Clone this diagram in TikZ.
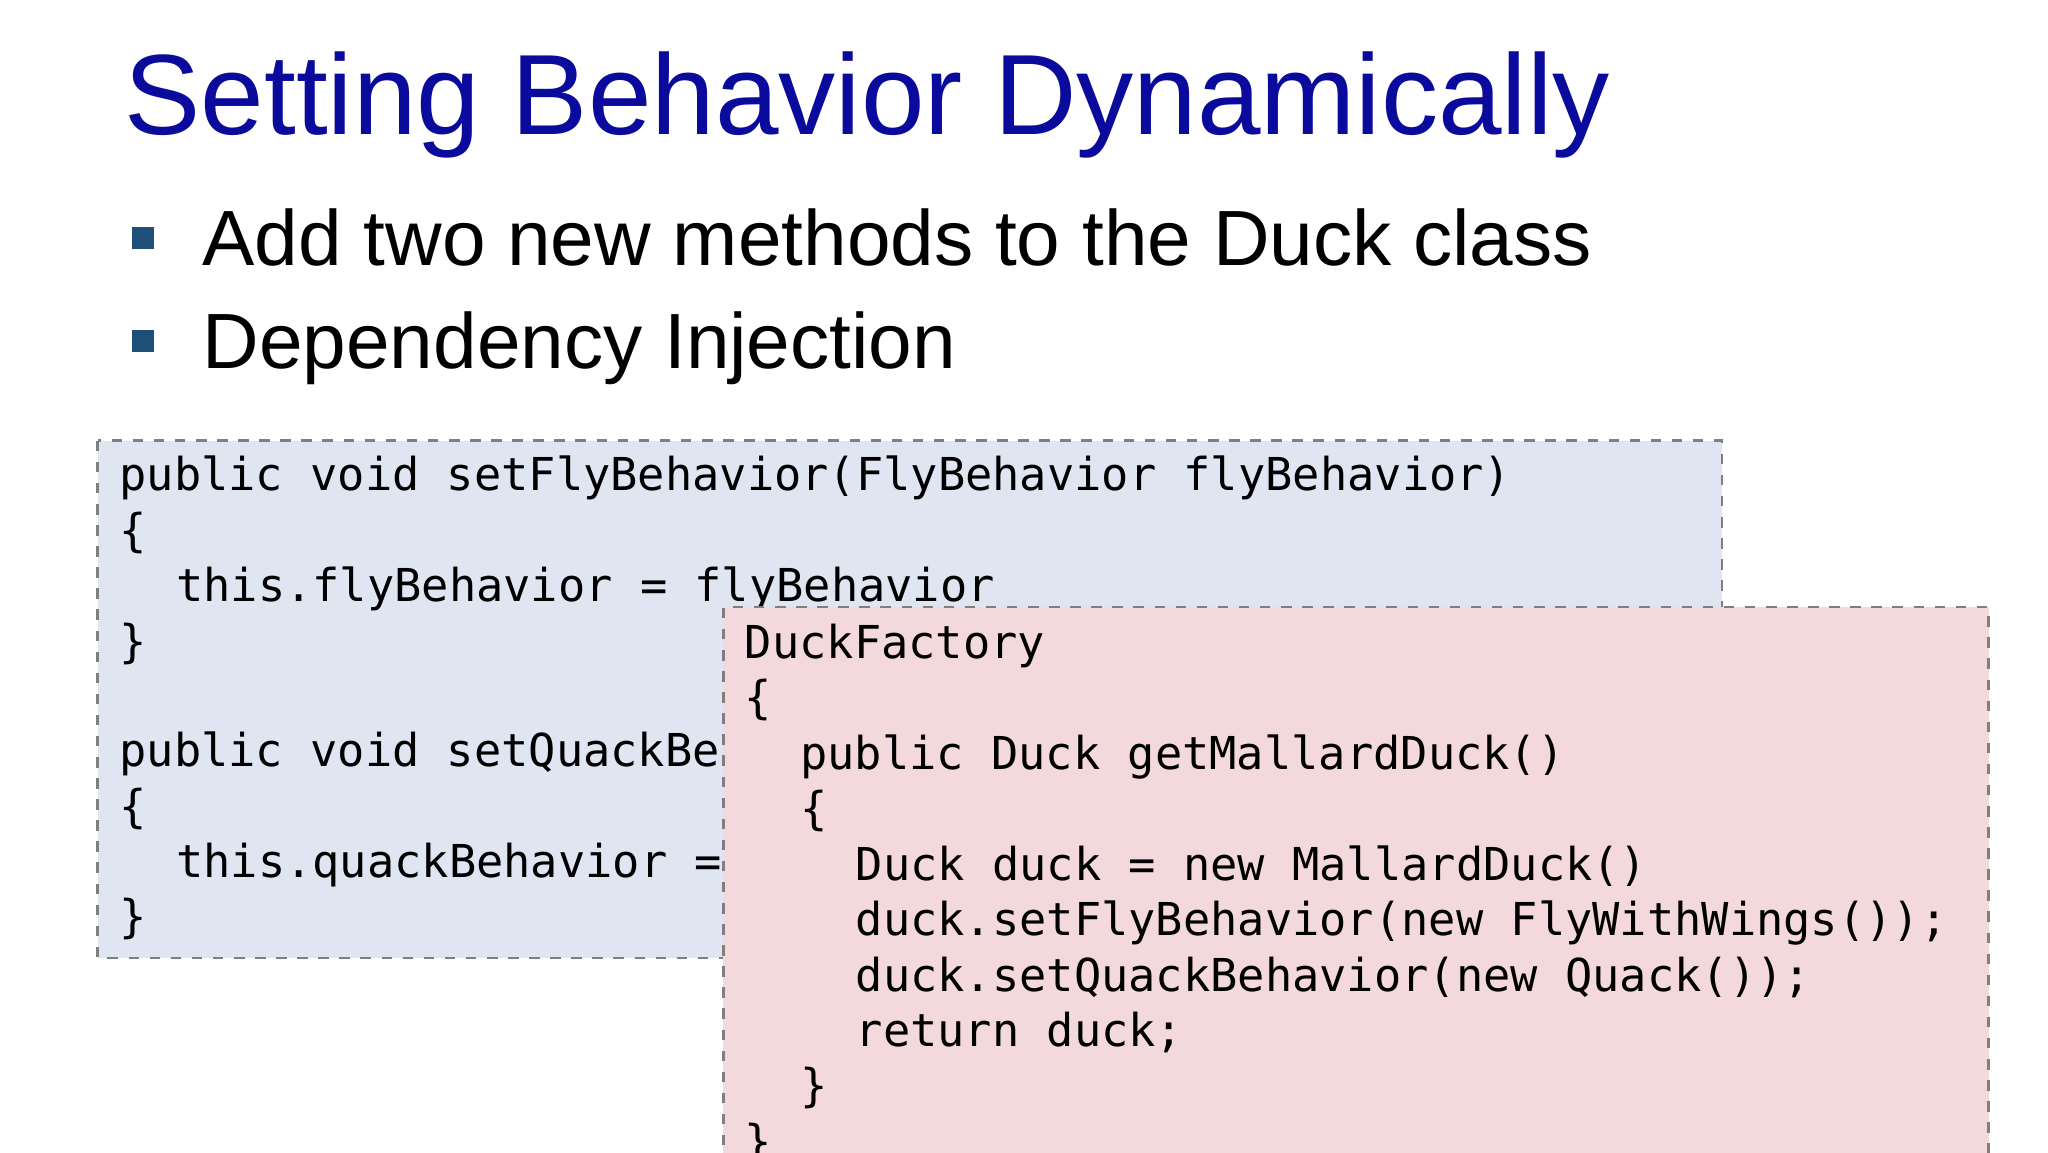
\documentclass[tikz,border=0pt]{standalone}
\usepackage{fontspec}
\setmainfont{Liberation Sans}
\newfontfamily\codef{DejaVu Sans Mono}
\definecolor{titleblue}{HTML}{0A0A9C}
\definecolor{bulletblue}{HTML}{1F4E79}
\definecolor{boxblue}{HTML}{DFE5F1}
\definecolor{boxpink}{HTML}{F3D9DC}
\definecolor{boxline}{HTML}{7F7F7F}
\begin{document}
\begin{tikzpicture}[x=0.013196cm,y=-0.013196cm,
  codeline/.style={anchor=base west,inner sep=0pt,font=\codef\fontsize{12.9pt}{15.8pt}\selectfont},
  bul/.style={anchor=base west,inner sep=0pt,font=\fontsize{22.3pt}{27pt}\selectfont},
  sq/.style={fill=bulletblue,draw=none},
  codebox/.style={draw=boxline,dashed,line width=0.8pt}]
\useasboundingbox (0,0) rectangle (1552,873);
\fill[white] (0,0) rectangle (1552,873);
\node[anchor=base west,inner sep=0pt,text=titleblue,font=\fontsize{32.5pt}{40pt}\selectfont] (title) at (94,102) {Setting Behavior Dynamically};
\fill[sq] (100,172) rectangle (117,189);
\node[bul] (b1) at (153,201) {Add two new methods to the Duck class};
\fill[sq] (100,250) rectangle (117,267);
\node[bul] (b2) at (153,279) {Dependency Injection};
% blue box
\draw[codebox,fill=boxblue] (74,334) rectangle (1305,726);
\node[codeline] (l1) at (90,372) {public void setFlyBehavior(FlyBehavior flyBehavior)};
\node[codeline] (l2) at (90,414) {\{};
\node[codeline] (l3) at (133,456) {this.flyBehavior = flyBehavior};
\node[codeline] (l4) at (90,498) {\}};
\node[codeline] (l5) at (90,581) {public void setQuackBehavior(QuackBehavior quackBehavior)};
\node[codeline] (l6) at (90,623) {\{};
\node[codeline] (l7) at (133,665) {this.quackBehavior = quackBehavior};
\node[codeline] (l8) at (90,707) {\}};
% pink box
\begin{scope}
\clip (0,0) rectangle (1552,873);
\fill[boxpink] (548,460) rectangle (1507,900);
\draw[codebox] (548,900) -- (548,460) -- (1507,460) -- (1507,900);
\node[codeline] (p1) at (564,499) {DuckFactory};
\node[codeline] (p2) at (564,541) {\{};
\node[codeline] (p3) at (606,583) {public Duck getMallardDuck()};
\node[codeline] (p4) at (606,625) {\{};
\node[codeline] (p5) at (648,667) {Duck duck = new MallardDuck()};
\node[codeline] (p6) at (648,709) {duck.setFlyBehavior(new FlyWithWings());};
\node[codeline] (p7) at (648,751) {duck.setQuackBehavior(new Quack());};
\node[codeline] (p8) at (648,793) {return duck;};
\node[codeline] (p9) at (606,835) {\}};
\node[codeline] (p10) at (564,877) {\}};
\end{scope}
\end{tikzpicture}
\end{document}
